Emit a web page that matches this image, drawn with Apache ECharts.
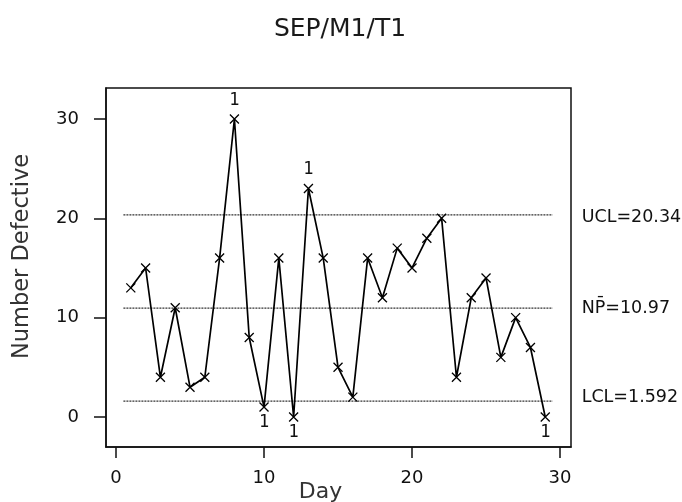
<!DOCTYPE html>
<html>
<head>
<meta charset="utf-8">
<script src="https://cdn.jsdelivr.net/npm/echarts@6/dist/echarts.min.js"></script>
<style>html,body{margin:0;padding:0;background:#fff;}#c{width:682px;height:502px;}</style>
</head>
<body>
<div id="c"></div>
<script>
const titleText = 'SEP/M1/T1';
const days = [1,2,3,4,5,6,7,8,9,10,11,12,13,14,15,16,17,18,19,20,21,22,23,24,25,26,27,28,29];
const defectives = [13,15,4,11,3,4,16,30,8,1,16,0,23,16,5,2,16,12,17,15,18,20,4,12,14,6,10,7,0];
const controlNames = ['UCL', 'N\u0050\u0304', 'LCL'];
const controlValues = [20.34, 10.97, 1.592];
const xTicks = [0, 10, 20, 30];
const yTicks = [0, 10, 20, 30];
const xName = 'Day';
const yName = 'Number Defective';

const FONT = 'DejaVu Sans';
const ucl = controlValues[0], lcl = controlValues[2];

const pointData = days.map((d, i) => {
  const v = defectives[i];
  const item = { value: [d, v] };
  if (v > ucl) item.label = { show: true, position: 'top', distance: 5, formatter: '1' };
  else if (v < lcl) item.label = { show: true, position: 'bottom', distance: 2, formatter: '1' };
  return item;
});

const labelOffsets = [[0, 3], [0, 0], [0, -4]];
const ctrlSeries = controlValues.map((v, i) => ({
  type: 'line',
  data: [[days[0] - 0.5, v], [days[days.length - 1] + 0.5, v]],
  symbol: 'none',
  silent: true,
  lineStyle: { color: '#333', width: 1.2, type: [2, 1] },
  endLabel: {
    show: true,
    formatter: controlNames[i] + '=' + v,
    distance: 29,
    offset: labelOffsets[i],
    color: '#111',
    fontFamily: FONT,
    fontSize: 17.5
  },
  z: 1
}));

const chart = echarts.init(document.getElementById('c'), null, { renderer: 'canvas' });
chart.setOption({
  animation: false,
  backgroundColor: '#fff',
  title: {
    text: titleText,
    left: 335,
    textAlign: 'center',
    top: 12,
    textStyle: { fontFamily: FONT, fontSize: 25, fontWeight: 'normal', color: '#1a1a1a' }
  },
  grid: { left: 106, top: 88, width: 465, height: 359, show: true, borderColor: '#111', borderWidth: 1.5, backgroundColor: 'transparent', outerBoundsMode: 'none', containLabel: false },
  xAxis: {
    type: 'value',
    min: -0.676,
    max: 30.74,
    name: xName,
    nameLocation: 'middle',
    nameGap: 34,
    nameMoveOverlap: false,
    nameTextStyle: { fontFamily: FONT, fontSize: 22, color: '#333', padding: [0, 36, 0, 0] },
    axisLine: { show: true, onZero: false, lineStyle: { color: '#111', width: 1.5 } },
    axisTick: { show: true, inside: false, length: 11, customValues: xTicks, lineStyle: { color: '#111', width: 1.5 } },
    axisLabel: { customValues: xTicks, margin: 22, fontFamily: FONT, fontSize: 18, color: '#111' },
    splitLine: { show: false }
  },
  yAxis: {
    type: 'value',
    min: -3.02,
    max: 33.12,
    name: yName,
    nameLocation: 'middle',
    nameGap: 72,
    nameMoveOverlap: false,
    nameTextStyle: { fontFamily: FONT, fontSize: 22.5, color: '#333', padding: [0, 0, 0, 22] },
    axisLine: { show: true, onZero: false, lineStyle: { color: '#111', width: 1.5 } },
    axisTick: { show: true, inside: false, length: 12, customValues: yTicks, lineStyle: { color: '#111', width: 1.5 } },
    axisLabel: { customValues: yTicks, margin: 27, fontFamily: FONT, fontSize: 18, color: '#111' },
    splitLine: { show: false }
  },
  series: ctrlSeries.concat([{
    type: 'line',
    data: pointData,
    symbol: 'path://M0,0L10,10M10,0L0,10',
    symbolSize: 9,
    itemStyle: { color: 'rgba(0,0,0,0)', borderColor: '#000', borderWidth: 1.3 },
    lineStyle: { color: '#000', width: 1.7 },
    label: { show: false, color: '#111', fontFamily: 'DejaVu Sans Mono', fontSize: 17 },
    z: 3
  }])
});
</script>
</body>
</html>
